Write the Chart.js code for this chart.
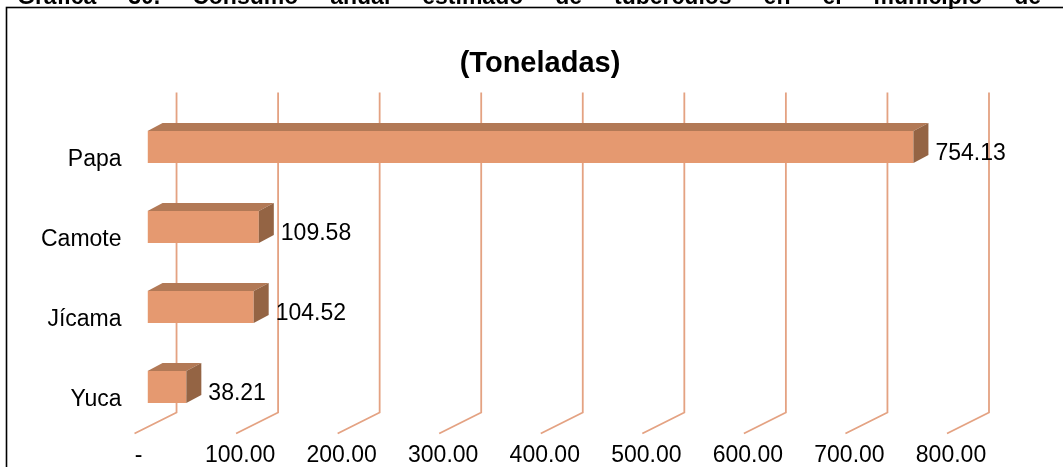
<!DOCTYPE html>
<html><head><meta charset="utf-8">
<script src="https://cdn.jsdelivr.net/npm/chart.js@4.4.0/dist/chart.umd.min.js"></script>
<style>html,body{margin:0;padding:0;background:#fff;overflow:hidden}#wrap{position:relative;width:1063px;height:467px}canvas{display:block}</style>
</head><body><div id="wrap"><canvas id="c" width="1063" height="467"></canvas></div>
<script>
const categories = ["Papa", "Camote", "Jícama", "Yuca"];
const values = [754.13, 109.58, 104.52, 38.21];
const xMin = 0, xMax = 800, xStep = 100;
const chartTitle = "(Toneladas)";
const headerText = "Gráfica 30. Consumo anual estimado de tubérculos en el municipio de";

const FONT = "'Liberation Sans', Arial, sans-serif";
const FRONT = "rgb(229,153,112)";
const TOP = "rgb(178,121,86)";
const SIDE = "rgb(148,100,68)";
const GRID = "rgb(228,162,130)";
const DEPTH = {dx: 15, dy: -8};
const BACK = {dx: 29, dy: -14.5};
const FRONTP = {dx: -13, dy: 6.5};

const decor = {
  id: 'decor',
  beforeDraw(chart) {
    const ctx = chart.ctx;
    ctx.save();
    ctx.fillStyle = '#fff';
    ctx.fillRect(0, 0, chart.width, chart.height);
    ctx.font = "bold 23px " + FONT;
    ctx.fillStyle = '#000';
    ctx.textBaseline = 'alphabetic';
    const words = headerText.split(' ');
    const widths = words.map(w => ctx.measureText(w).width);
    const total = widths.reduce((a, b) => a + b, 0);
    const startX = 17, endX = 1041;
    const gap = (endX - startX - total) / (words.length - 1);
    let x = startX;
    words.forEach((w, i) => { ctx.fillText(w, x, 4); x += widths[i] + gap; });
    ctx.strokeStyle = '#000';
    ctx.lineWidth = 1.6;
    ctx.strokeRect(6.5, 7.5, 1200, 600);
    ctx.font = "bold 29px " + FONT;
    ctx.textAlign = 'center';
    ctx.textBaseline = 'middle';
    ctx.fillText(chartTitle, 540, 64);
    ctx.restore();
  },
  beforeDatasetsDraw(chart) {
    const ctx = chart.ctx;
    const xs = chart.scales.x;
    const a = chart.chartArea;
    ctx.save();
    ctx.strokeStyle = GRID;
    ctx.lineWidth = 1.8;
    xs.ticks.forEach(t => {
      const px = xs.getPixelForValue(t.value);
      ctx.beginPath();
      ctx.moveTo(px + BACK.dx, a.top + BACK.dy);
      ctx.lineTo(px + BACK.dx, a.bottom + BACK.dy);
      ctx.lineTo(px + FRONTP.dx, a.bottom + FRONTP.dy);
      ctx.stroke();
    });
    ctx.restore();
  },
  afterDatasetsDraw(chart) {
    const ctx = chart.ctx;
    const meta = chart.getDatasetMeta(0);
    ctx.save();
    meta.data.forEach((bar, i) => {
      const p = bar.getProps(['x', 'y', 'base', 'height'], true);
      const t = p.y - p.height / 2, b = p.y + p.height / 2;
      ctx.fillStyle = TOP;
      ctx.beginPath();
      ctx.moveTo(p.base, t);
      ctx.lineTo(p.base + DEPTH.dx, t + DEPTH.dy);
      ctx.lineTo(p.x + DEPTH.dx, t + DEPTH.dy);
      ctx.lineTo(p.x, t);
      ctx.closePath();
      ctx.fill();
      ctx.fillStyle = SIDE;
      ctx.beginPath();
      ctx.moveTo(p.x, t);
      ctx.lineTo(p.x + DEPTH.dx, t + DEPTH.dy);
      ctx.lineTo(p.x + DEPTH.dx, b + DEPTH.dy);
      ctx.lineTo(p.x, b);
      ctx.closePath();
      ctx.fill();
      ctx.fillStyle = '#000';
      ctx.font = "23px " + FONT;
      ctx.textAlign = 'left';
      ctx.textBaseline = 'middle';
      ctx.fillText(values[i].toFixed(2), p.x + DEPTH.dx + 7, p.y + 7);
    });
    ctx.restore();
  }
};

new Chart(document.getElementById('c'), {
  type: 'bar',
  data: {
    labels: categories,
    datasets: [{
      data: values,
      backgroundColor: FRONT,
      borderWidth: 0,
      barPercentage: 0.4,
      categoryPercentage: 1
    }]
  },
  options: {
    indexAxis: 'y',
    responsive: false,
    animation: false,
    events: [],
    layout: {padding: {left: 15, right: 103, top: 107, bottom: -18}},
    plugins: {legend: {display: false}, title: {display: false}, tooltip: {enabled: false}},
    scales: {
      x: {
        min: xMin, max: xMax,
        grid: {display: false, drawTicks: false},
        border: {display: false},
        ticks: {
          stepSize: xStep,
          padding: 17.5,
          labelOffset: -9,
          color: '#000',
          font: {family: FONT, size: 23, lineHeight: 1},
          maxRotation: 0,
          autoSkip: false,
          callback: v => v === 0 ? '-' : Number(v).toFixed(2)
        }
      },
      y: {
        grid: {display: false, drawTicks: false},
        border: {display: false},
        ticks: {
          padding: 26,
          labelOffset: 13,
          color: '#000',
          font: {family: FONT, size: 23, lineHeight: 1}
        }
      }
    }
  },
  plugins: [decor]
});
</script>
</body></html>
